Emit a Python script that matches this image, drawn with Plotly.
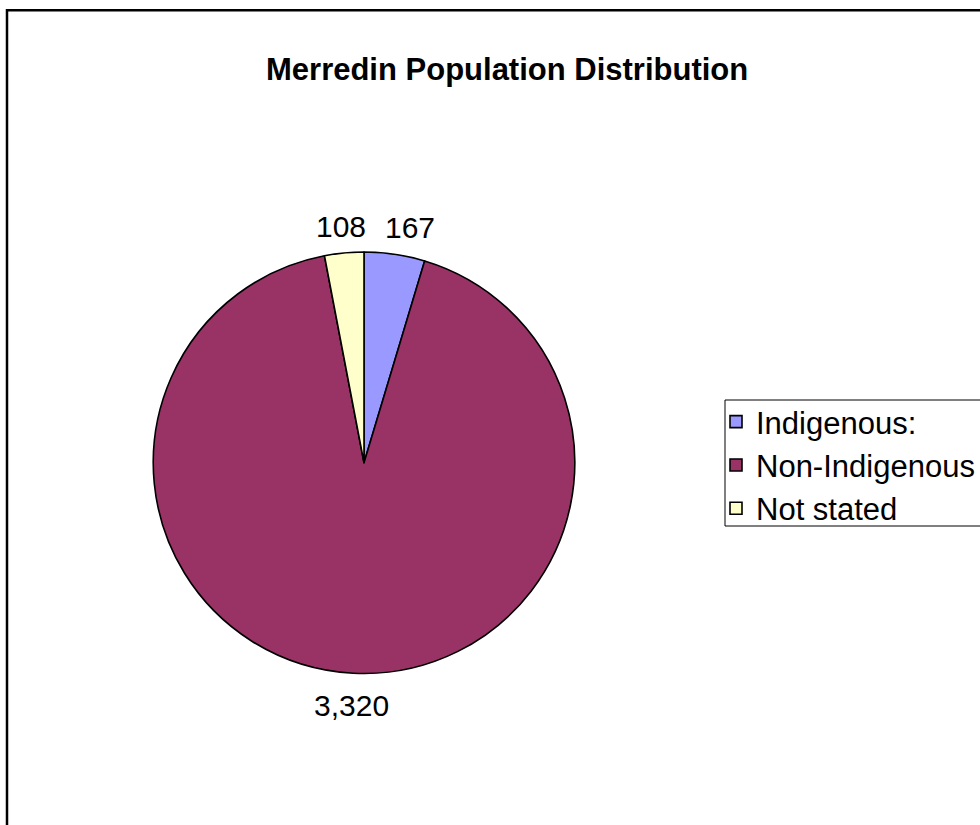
import numpy as np
import plotly.graph_objects as go

# Population categories and counts
categories = ["Indigenous:", "Non-Indigenous", "Not stated"]
population = [167, 3320, 108]
slice_colors = ["#9999FF", "#993366", "#FFFFCC"]

chart_title = "Merredin Population Distribution"

W, H = 980, 825
FONT = "Arial, 'Liberation Sans', sans-serif"
LABEL_SIZE = 30


def px(x):
    return x / W


def py(y):
    return 1 - y / H


# pie placement (pixels)
pie_left, pie_right, pie_top, pie_bottom = 153, 575, 252, 673.5
cx = (pie_left + pie_right) / 2
cy = (pie_top + pie_bottom) / 2
R = (pie_right - pie_left) / 2

fig = go.Figure(
    go.Pie(
        labels=categories,
        values=population,
        sort=False,
        direction="clockwise",
        rotation=0,
        marker=dict(colors=slice_colors, line=dict(color="black", width=1.6)),
        textinfo="none",
        hoverinfo="label+value+percent",
        domain=dict(x=[px(pie_left), px(pie_right)], y=[py(pie_bottom), py(pie_top)]),
    )
)

# value labels placed just outside each slice, along its mid angle
vals = np.array(population, dtype=float)
mid = (np.cumsum(vals) - vals / 2) / vals.sum() * 2 * np.pi
label_r = 1.14 * R
texts = [f"{v:,}" for v in population]
lx = cx + label_r * np.sin(mid)
ly = cy - label_r * np.cos(mid)
# approximate text widths (Arial digits 0.556em, comma 0.278em)
widths = np.array([sum(0.278 if c == "," else 0.556 for c in t) * LABEL_SIZE for t in texts])

# keep labels on the same row from crowding each other: push the right one outwards
min_gap = 19
order = np.argsort(lx)
for i in range(len(order)):
    for j in range(i + 1, len(order)):
        a, b = order[i], order[j]
        if abs(ly[a] - ly[b]) < LABEL_SIZE:
            need = (widths[a] + widths[b]) / 2 + min_gap
            if lx[b] - lx[a] < need:
                lx[b] = lx[a] + need

annotations = []
for t, x, y in zip(texts, lx, ly):
    annotations.append(
        dict(
            x=px(x), y=py(y), xref="paper", yref="paper",
            text=t, showarrow=False,
            xanchor="center", yanchor="middle", yshift=-3,
            font=dict(family=FONT, size=LABEL_SIZE, color="black"),
        )
    )

annotations.append(
    dict(
        x=px(507), y=py(70), xref="paper", yref="paper",
        text=f"<b>{chart_title}</b>", showarrow=False,
        xanchor="center", yanchor="middle",
        font=dict(family=FONT, size=31, color="black"),
    )
)

shapes = [
    # chart frame
    dict(type="rect", xref="paper", yref="paper",
         x0=px(7), x1=px(1010), y0=py(860), y1=py(10.3),
         line=dict(color="black", width=2.5), fillcolor="rgba(0,0,0,0)"),
    # legend frame
    dict(type="rect", xref="paper", yref="paper",
         x0=px(725), x1=px(1040), y0=py(526), y1=py(400),
         line=dict(color="black", width=1), fillcolor="rgba(0,0,0,0)"),
]

fig.update_layout(
    width=W, height=H,
    margin=dict(l=0, r=0, t=0, b=0),
    paper_bgcolor="white",
    plot_bgcolor="white",
    showlegend=True,
    legend=dict(
        x=px(716), y=py(395), xanchor="left", yanchor="top",
        font=dict(family=FONT, size=31, color="black"),
        bgcolor="rgba(0,0,0,0)", borderwidth=0,
        traceorder="normal",
    ),
    annotations=annotations,
    shapes=shapes,
)

fig.write_html("out.html")
